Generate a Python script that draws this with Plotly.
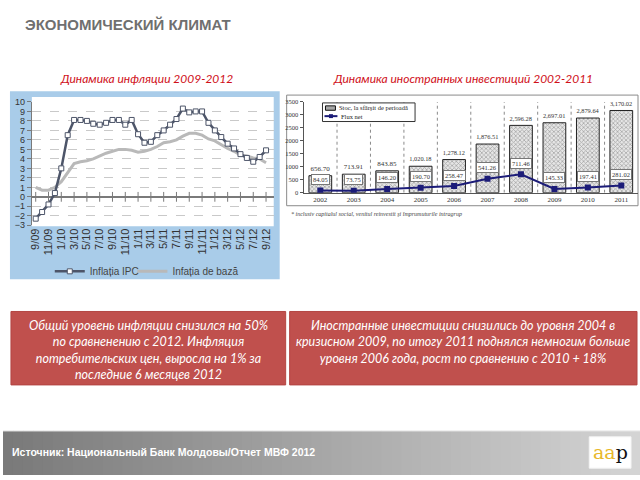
import plotly.graph_objects as go

# ---------------- data ----------------
months = ["9/09", "10/09", "11/09", "12/09", "1/10", "2/10", "3/10", "4/10", "5/10", "6/10",
          "7/10", "8/10", "9/10", "10/10", "11/10", "12/10", "1/11", "2/11", "3/11", "4/11",
          "5/11", "6/11", "7/11", "8/11", "9/11", "10/11", "11/11", "12/11", "1/12", "2/12",
          "3/12", "4/12", "5/12", "6/12", "7/12", "8/12", "9/12"]
ipc = [-2.3, -1.6, -0.8, 0.4, 3.0, 6.5, 8.1, 8.1, 8.0, 7.7,
       7.6, 7.8, 8.1, 8.1, 7.6, 8.1, 6.6, 5.7, 5.8, 6.5,
       7.0, 7.6, 8.2, 9.3, 8.9, 9.0, 9.0, 7.8, 7.0, 6.3,
       5.6, 5.1, 4.5, 4.1, 3.7, 4.2, 4.9]
core = [1.0, 0.7, 0.7, 1.0, 1.6, 2.5, 3.5, 3.7, 3.8, 4.0,
        4.3, 4.6, 4.8, 5.0, 5.0, 4.9, 4.7, 4.8, 5.0, 5.3,
        5.7, 5.8, 6.0, 6.4, 6.7, 6.7, 6.5, 6.1, 5.9, 5.5,
        5.1, 4.8, 4.4, 4.3, 4.1, 4.0, 3.6]

years = [2002, 2003, 2004, 2005, 2006, 2007, 2008, 2009, 2010, 2011]
stock = [656.70, 713.91, 843.85, 1020.18, 1278.12, 1876.51, 2596.28, 2697.01, 2879.64, 3170.02]
flux = [84.05, 73.75, 146.20, 190.70, 258.47, 541.26, 711.46, 145.33, 197.41, 281.02]

stock_name = "Stoc, la sfârşit de perioadă"
flux_name = "Flux net"

W, H = 640, 480
def X(px):
    return px / W
def Y(py):
    return 1 - py / H

BAR_FILL = "#e6e6e6"
BAR_PAT = "#6a6a6a"
FLUX_COL = "#1c1c78"
AXIS_GRAY = "#7a7a7a"

fig = go.Figure()

# ---------------- left chart ----------------
idx = list(range(len(months)))
fig.add_trace(go.Scatter(
    x=idx, y=core, mode="lines", name="Infația de bază",
    line=dict(color="#b9b9b9", width=3), xaxis="x", yaxis="y", legend="legend2"))
fig.add_trace(go.Scatter(
    x=idx, y=ipc, mode="lines+markers", name="Inflația IPC",
    line=dict(color="#4d5569", width=2.5),
    marker=dict(symbol="square", size=5, color="white", line=dict(color="#4d5569", width=1)),
    xaxis="x", yaxis="y", legend="legend"))
tick_idx = idx[::2]
fig.add_trace(go.Scatter(
    x=tick_idx, y=[0] * len(tick_idx), mode="markers", showlegend=False, hoverinfo="skip",
    marker=dict(symbol="line-ns-open", size=7, color=AXIS_GRAY, line=dict(color=AXIS_GRAY, width=1)),
    xaxis="x", yaxis="y"))

# ---------------- right chart ----------------
fig.add_trace(go.Bar(
    x=years, y=stock, name=stock_name, width=0.68, showlegend=False,
    marker=dict(color="#dcdcdc", line=dict(color="#222", width=1),
                pattern=dict(shape="x", size=3, solidity=0.45, fgcolor=BAR_PAT, bgcolor=BAR_FILL)),
    text=[f"{v:,.2f}" for v in stock], textposition="outside", cliponaxis=False,
    textfont=dict(family="Liberation Serif", size=7, color="#333"),
    xaxis="x2", yaxis="y2"))
fig.add_trace(go.Scatter(
    x=years, y=flux, mode="lines+markers", name=flux_name, showlegend=False,
    line=dict(color=FLUX_COL, width=2),
    marker=dict(symbol="square", size=6, color=FLUX_COL),
    xaxis="x2", yaxis="y2"))

annotations = []
for yr, v in zip(years, flux):
    annotations.append(dict(
        x=yr, y=v, xref="x2", yref="y2", text=f"{v:.2f}", showarrow=False, yshift=11,
        bgcolor="white", bordercolor="#777", borderwidth=1, borderpad=1,
        font=dict(family="Liberation Serif", size=6.5, color="#333")))

shapes = []
# blue panel and white plot area for left chart
shapes.append(dict(type="rect", xref="paper", yref="paper", x0=X(7), x1=X(278), y0=Y(280), y1=Y(88),
                   fillcolor="#a9cce9", line=dict(width=0), layer="below"))
shapes.append(dict(type="rect", xref="paper", yref="paper", x0=X(29), x1=X(272), y0=Y(226), y1=Y(94),
                   fillcolor="white", line=dict(width=0), layer="below"))
# right chart frame
shapes.append(dict(type="rect", xref="paper", yref="paper", x0=X(285), x1=X(638), y0=Y(205), y1=Y(92),
                   fillcolor="white", line=dict(color="#8a8a8a", width=1), layer="below"))
# vertical dotted separators between years
for yr in years[:-1]:
    shapes.append(dict(type="line", xref="x2", yref="y2", x0=yr + 0.5, x1=yr + 0.5, y0=0, y1=3500,
                       line=dict(color="#8a8a8a", width=1, dash="dot"), layer="below"))
# manual legend for the right chart
shapes.append(dict(type="rect", xref="paper", yref="paper", x0=X(321), x1=X(414), y0=Y(119), y1=Y(100),
                   fillcolor="white", line=dict(color="#333", width=1)))
shapes.append(dict(type="rect", xref="paper", yref="paper", x0=X(324), x1=X(334), y0=Y(107.5), y1=Y(103),
                   fillcolor="#a8a8a8", line=dict(color="#111", width=1)))
shapes.append(dict(type="line", xref="paper", yref="paper", x0=X(323), x1=X(336), y0=Y(113.5), y1=Y(113.5),
                   line=dict(color=FLUX_COL, width=2)))
shapes.append(dict(type="rect", xref="paper", yref="paper", x0=X(327.5), x1=X(331.5), y0=Y(115.5), y1=Y(111.5),
                   fillcolor=FLUX_COL, line=dict(color=FLUX_COL, width=0)))
annotations += [
    dict(x=X(336), y=Y(105), xref="paper", yref="paper", xanchor="left", yanchor="middle", showarrow=False,
         text=stock_name, font=dict(family="Liberation Serif", size=6.5, color="#222")),
    dict(x=X(338), y=Y(113.5), xref="paper", yref="paper", xanchor="left", yanchor="middle", showarrow=False,
         text=flux_name, font=dict(family="Liberation Serif", size=6.5, color="#222")),
]
# red text boxes
shapes.append(dict(type="rect", xref="paper", yref="paper", x0=X(8), x1=X(284), y0=Y(388), y1=Y(313),
                   fillcolor="#c0504d", line=dict(color="#b34542", width=1)))
shapes.append(dict(type="rect", xref="paper", yref="paper", x0=X(288), x1=X(637), y0=Y(388), y1=Y(313),
                   fillcolor="#c0504d", line=dict(color="#b34542", width=1)))
# footer gradient
n = 64
for i in range(n):
    t = i / (n - 1)
    c = int(122 + (212 - 122) * t)
    shapes.append(dict(type="rect", xref="paper", yref="paper",
                       x0=X(i * 10), x1=X(i * 10 + 11), y0=0, y1=Y(435),
                       fillcolor=f"rgb({c},{c},{c})", line=dict(width=0)))
shapes.append(dict(type="line", xref="paper", yref="paper", x0=0, x1=1, y0=Y(435), y1=Y(435),
                   line=dict(color="#e8e8e8", width=1)))
# logo box
shapes.append(dict(type="rect", xref="paper", yref="paper", x0=X(589), x1=X(631), y0=Y(473), y1=Y(441),
                   fillcolor="white", line=dict(color="#f4f4f4", width=1)))

# texts
annotations += [
    dict(x=X(20), y=Y(20), xref="paper", yref="paper", xanchor="left", yanchor="middle", showarrow=False,
         text="<b>ЭКОНОМИЧЕСКИЙ КЛИМАТ</b>",
         font=dict(family="Liberation Sans", size=15, color="#6f6f6f")),
    dict(x=X(144), y=Y(75), xref="paper", yref="paper", xanchor="center", yanchor="middle", showarrow=False,
         text="<i>Динамика инфляции 2009-2012</i>",
         font=dict(family="Lato", size=12, color="#d0101a")),
    dict(x=X(462), y=Y(75), xref="paper", yref="paper", xanchor="center", yanchor="middle", showarrow=False,
         text="<i>Динамика иностранных инвестиций 2002-2011</i>",
         font=dict(family="Lato", size=12, color="#d0101a")),
    dict(x=X(287), y=Y(213), xref="paper", yref="paper", xanchor="left", yanchor="middle", showarrow=False,
         text="<i>* inclusiv capitalul social, venitul reinvestit şi împrumuturile intragrup</i>",
         font=dict(family="Liberation Serif", size=6, color="#444")),
    dict(x=X(146), y=Y(352), xref="paper", yref="paper", xanchor="center", yanchor="middle", showarrow=False,
         text="<i>Общий уровень инфляции снизился на 50%<br>по сравненению с 2012. Инфляция<br>"
              "потребительских цен, выросла на 1% за<br>последние 6 месяцев 2012</i>",
         font=dict(family="Lato", size=12.5, color="white"), align="center"),
    dict(x=X(462), y=Y(344), xref="paper", yref="paper", xanchor="center", yanchor="middle", showarrow=False,
         text="<i>Иностранные инвестиции снизились до уровня 2004 в<br>кризисном 2009, по итогу 2011 поднялся немногим больше<br>"
              "уровня 2006 года, рост по сравнению с 2010 + 18%</i>",
         font=dict(family="Lato", size=12.5, color="white"), align="center"),
    dict(x=X(7), y=Y(457), xref="paper", yref="paper", xanchor="left", yanchor="middle", showarrow=False,
         text="<b>Источник: Национальный Банк Молдовы/Отчет МВФ 2012</b>",
         font=dict(family="Liberation Sans", size=10.5, color="white")),
    dict(x=X(610), y=Y(456), xref="paper", yref="paper", xanchor="center", yanchor="middle", showarrow=False,
         text='<span style="color:#e8b82a">aa</span>p',
         font=dict(family="DejaVu Serif", size=19, color="#111")),
]

fig.update_layout(
    width=W, height=H, margin=dict(l=0, r=0, t=0, b=0),
    paper_bgcolor="white", plot_bgcolor="rgba(0,0,0,0)",
    font=dict(family="Liberation Sans", color="#333"),
    showlegend=True,
    xaxis=dict(domain=[X(29), X(272)], range=[-0.6, 37.2], tickmode="array",
               tickvals=tick_idx, ticktext=months[::2], tickangle=-90,
               tickfont=dict(size=11, color="#333"), showgrid=False, zeroline=False,
               ticks="", showline=False, anchor="y"),
    yaxis=dict(domain=[Y(225), Y(99)], range=[-3, 10], dtick=1, tick0=0,
               tickfont=dict(size=9, color="#333"), showgrid=True, gridcolor="#c9c9c9",
               griddash="dash", gridwidth=1, zeroline=True, zerolinecolor=AXIS_GRAY, zerolinewidth=1.5,
               showline=True, linecolor=AXIS_GRAY, ticks="outside", ticklen=4, tickcolor=AXIS_GRAY,
               anchor="x"),
    xaxis2=dict(domain=[X(302), X(638)], range=[2001.5, 2011.5], tickmode="array", tickvals=years,
                tickfont=dict(family="Liberation Serif", size=7, color="#333"), showgrid=False,
                zeroline=False, showline=True, linecolor="#555", ticks="", anchor="y2"),
    yaxis2=dict(domain=[Y(191.7), Y(99)], range=[0, 3500], dtick=500,
                tickfont=dict(family="Liberation Serif", size=6.5, color="#333"), showgrid=False,
                zeroline=False, showline=True, linecolor="#555", ticks="outside", ticklen=3,
                tickcolor="#555", anchor="x2"),
    legend=dict(orientation="h", x=X(47), y=Y(272), xanchor="left", yanchor="middle",
                bgcolor="rgba(0,0,0,0)", font=dict(size=10, color="#444")),
    legend2=dict(orientation="h", x=X(130), y=Y(272), xanchor="left", yanchor="middle",
                 bgcolor="rgba(0,0,0,0)", font=dict(size=10, color="#444")),
    shapes=shapes, annotations=annotations, bargap=0.3,
)

fig.write_html("out.html")
